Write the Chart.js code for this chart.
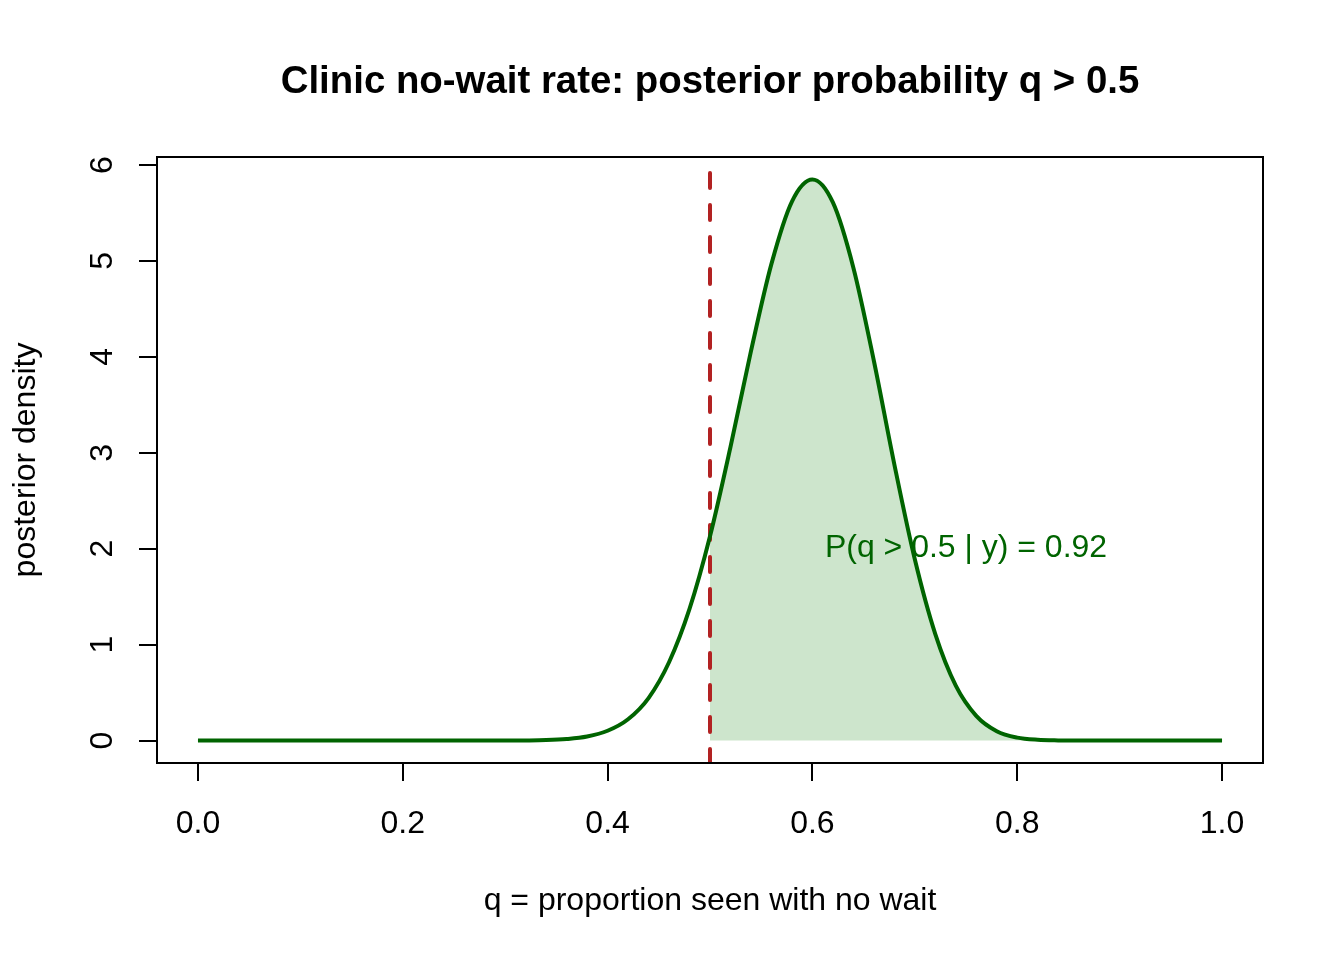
<!DOCTYPE html>
<html>
<head>
<meta charset="utf-8">
<title>Clinic no-wait rate</title>
<script src="https://cdn.jsdelivr.net/npm/chart.js@4/dist/chart.umd.min.js"></script>
<style>
  html, body { margin: 0; padding: 0; background: #fff; }
  canvas { display: block; }
</style>
</head>
<body>
<canvas id="posteriorChart" width="1344" height="960"></canvas>
<script>
// posterior density, q from 0 to 1 in steps of 0.02
const qValues = [
  0.00, 0.02, 0.04, 0.06, 0.08, 0.10, 0.12, 0.14, 0.16, 0.18,
  0.20, 0.22, 0.24, 0.26, 0.28, 0.30, 0.32, 0.34, 0.36, 0.38,
  0.40, 0.42, 0.44, 0.46, 0.48, 0.50, 0.52, 0.54, 0.56, 0.58,
  0.60, 0.62, 0.64, 0.66, 0.68, 0.70, 0.72, 0.74, 0.76, 0.78,
  0.80, 0.82, 0.84, 0.86, 0.88, 0.90, 0.92, 0.94, 0.96, 0.98, 1.00
];
const density = [
  0, 0, 0, 0, 0, 0, 0, 0, 0, 0,
  0, 0, 0, 0, 0, 0.0004, 0.0015, 0.005, 0.016, 0.042,
  0.102, 0.222, 0.443, 0.816, 1.372, 2.13, 3.06, 4.06, 4.97, 5.62,
  5.85, 5.61, 4.93, 3.96, 2.88, 1.89, 1.11, 0.573, 0.258, 0.098,
  0.031, 0.008, 0.0016, 0.0002, 0, 0, 0, 0, 0, 0, 0
];
const threshold = 0.5;
const probLabel = "P(q > 0.5 | y) = 0.92";
const xTicks = [0, 0.2, 0.4, 0.6, 0.8, 1.0];
const yTicks = [0, 1, 2, 3, 4, 5, 6];

const FONT = "'Liberation Sans', Arial, Helvetica, sans-serif";
const curvePoints = qValues.map((q, i) => ({ x: q, y: density[i] }));
const tailPoints = curvePoints.filter(p => p.x >= threshold);

// R-style box, titles, rotated y labels, threshold line and annotation
const rStyle = {
  id: "rStyle",
  beforeDraw(chart) {
    const ctx = chart.ctx;
    ctx.save();
    ctx.fillStyle = "#fff";
    ctx.fillRect(0, 0, chart.width, chart.height);
    ctx.restore();
  },
  afterDatasetDraw(chart, args) {
    if (args.index !== 1) return;
    // dashed line at q = 0.5, drawn over the shaded tail
    const { ctx, chartArea } = chart;
    const x = chart.scales.x.getPixelForValue(threshold);
    ctx.save();
    ctx.beginPath();
    ctx.rect(chartArea.left, chartArea.top, chartArea.right - chartArea.left, chartArea.bottom - chartArea.top);
    ctx.clip();
    ctx.strokeStyle = "#b22222";
    ctx.lineWidth = 4;
    ctx.lineCap = "round";
    ctx.setLineDash([15, 17]);
    ctx.lineDashOffset = 16;
    ctx.beginPath();
    ctx.moveTo(x, chartArea.top);
    ctx.lineTo(x, chartArea.bottom);
    ctx.stroke();
    ctx.restore();
  },
  afterDraw(chart) {
    const { ctx, chartArea } = chart;
    const xs = chart.scales.x, ys = chart.scales.y;
    const midX = (chartArea.left + chartArea.right) / 2;
    const midY = (chartArea.top + chartArea.bottom) / 2;
    ctx.save();

    // plot frame
    ctx.strokeStyle = "#000";
    ctx.lineWidth = 2;
    ctx.strokeRect(chartArea.left, chartArea.top, chartArea.right - chartArea.left, chartArea.bottom - chartArea.top);

    ctx.fillStyle = "#000";
    ctx.textAlign = "center";
    ctx.textBaseline = "alphabetic";

    // main title
    ctx.font = "bold 38.4px " + FONT;
    ctx.fillText("Clinic no-wait rate: posterior probability q > 0.5", midX, 93);

    // x axis title
    ctx.font = "32px " + FONT;
    ctx.fillText("q = proportion seen with no wait", midX, 910);

    // y axis title
    ctx.save();
    ctx.translate(35, midY);
    ctx.rotate(-Math.PI / 2);
    ctx.fillText("posterior density", 0, 0);
    ctx.restore();

    // y tick labels, rotated like R's las = 0
    yTicks.forEach(v => {
      ctx.save();
      ctx.translate(112, ys.getPixelForValue(v));
      ctx.rotate(-Math.PI / 2);
      ctx.fillText(String(v), 0, 0);
      ctx.restore();
    });

    // probability annotation
    ctx.fillStyle = "#006400";
    ctx.fillText(probLabel, xs.getPixelForValue(0.75), ys.getPixelForValue(2) + 8);
    ctx.restore();
  }
};

new Chart(document.getElementById("posteriorChart"), {
  type: "line",
  data: {
    datasets: [
      {
        label: "posterior",
        data: curvePoints,
        borderColor: "#006400",
        borderWidth: 4,
        pointRadius: 0,
        cubicInterpolationMode: "monotone",
        fill: false,
        order: 0,
      },
      {
        label: "tail",
        data: tailPoints,
        borderWidth: 0,
        borderColor: "rgba(0,0,0,0)",
        backgroundColor: "#cde5cc",
        pointRadius: 0,
        cubicInterpolationMode: "monotone",
        fill: "origin",
        order: 1,
      },
    ],
  },
  options: {
    responsive: false,
    animation: false,
    layout: { padding: { top: 157, right: 81, left: 0, bottom: 0 } },
    plugins: {
      legend: { display: false },
      tooltip: { enabled: false },
      title: { display: false },
    },
    scales: {
      x: {
        type: "linear",
        min: -0.04,
        max: 1.04,
        afterBuildTicks: s => { s.ticks = xTicks.map(v => ({ value: v })); },
        afterFit: s => { s.height = 197; },
        grid: { drawOnChartArea: false, drawTicks: true, tickLength: 18, color: "#000", lineWidth: 2 },
        border: { display: false },
        ticks: {
          color: "#000",
          font: { family: FONT, size: 32 },
          padding: 24,
          maxRotation: 0,
          callback: v => v.toFixed(1),
        },
      },
      y: {
        type: "linear",
        min: -0.234,
        max: 6.084,
        afterBuildTicks: s => { s.ticks = yTicks.map(v => ({ value: v })); },
        afterFit: s => { s.width = 157; },
        grid: { drawOnChartArea: false, drawTicks: true, tickLength: 18, color: "#000", lineWidth: 2 },
        border: { display: false },
        ticks: { display: false },
      },
    },
  },
  plugins: [rStyle],
});
</script>
</body>
</html>
